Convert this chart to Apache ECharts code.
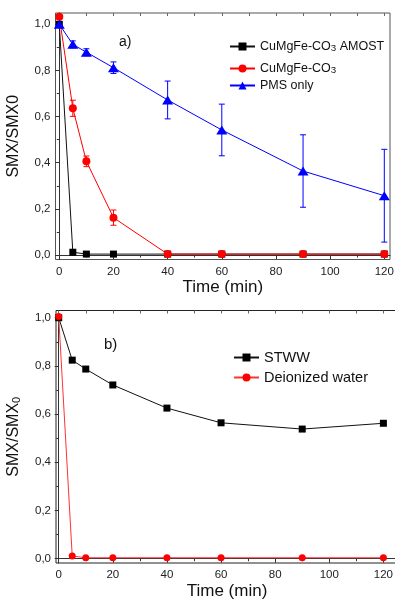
<!DOCTYPE html>
<html><head><meta charset="utf-8">
<script src="https://cdn.jsdelivr.net/npm/echarts@6/dist/echarts.min.js"></script>
<style>html,body{margin:0;padding:0;background:#fff}#c{width:395px;height:599px}</style>
</head><body><div id="c"></div>
<script>
// ---- data ----
const timeA = [0, 5, 10, 20, 40, 60, 90, 120];
const amost = [1.0, 0.012, 0.004, 0.004, 0.004, 0.004, 0.004, 0.004];
const cuMgFe = [1.033, 0.636, 0.406, 0.162, 0.004, 0.004, 0.004, 0.004];
const cuMgFeErr = [0, 0.035, 0.023, 0.033, 0, 0, 0, 0];
const pmsOnly = [1.0, 0.913, 0.879, 0.812, 0.672, 0.542, 0.364, 0.257];
const pmsErr = [0, 0.015, 0.015, 0.025, 0.082, 0.112, 0.157, 0.201];
const timeB = [0, 5, 10, 20, 40, 60, 90, 120];
const stww = [1.0, 0.824, 0.787, 0.721, 0.625, 0.564, 0.538, 0.562];
const diWater = [1.005, 0.011, 0.004, 0.004, 0.004, 0.004, 0.004, 0.004];
const yTicks = [0, 0.2, 0.4, 0.6, 0.8, 1.0];
const yMinor = [0.1, 0.3, 0.5, 0.7, 0.9];
const xTicks = [0, 20, 40, 60, 80, 100, 120];
const xMinor = [10, 30, 50, 70, 90, 110];

const FONT = 'Liberation Sans, Arial, sans-serif';
const AX = '#333';
const fmt = v => v.toFixed(1).replace('.', ',');
const pairs = (xs, ys) => xs.map((x, i) => [x, ys[i]]);
const errData = (xs, ys, es) => xs.map((x, i) => [x, ys[i] - es[i], ys[i] + es[i]]).filter((d, i) => es[i] > 0);

function errSeries(xi, yi, data, color) {
  return {
    type: 'custom', xAxisIndex: xi, yAxisIndex: yi, data: data, z: 3, silent: true,
    renderItem: function (params, api) {
      const x = api.value(0);
      const lo = api.coord([x, api.value(1)]);
      const hi = api.coord([x, api.value(2)]);
      const w = 3;
      const st = { stroke: color, lineWidth: 1 };
      return { type: 'group', children: [
        { type: 'line', shape: { x1: lo[0], y1: lo[1], x2: hi[0], y2: hi[1] }, style: st },
        { type: 'line', shape: { x1: lo[0] - w, y1: lo[1], x2: lo[0] + w, y2: lo[1] }, style: st },
        { type: 'line', shape: { x1: hi[0] - w, y1: hi[1], x2: hi[0] + w, y2: hi[1] }, style: st }
      ]};
    }
  };
}

function xAxes(grid, min, max, gap) {
  return [
    { type: 'value', gridIndex: grid, min: min, max: max, position: 'bottom',
      axisLine: { show: true, lineStyle: { color: AX, width: 1 } },
      axisTick: { show: true, length: 4, customValues: xTicks, lineStyle: { color: AX } },
      axisLabel: { customValues: xTicks, color: '#222', fontSize: 11.5, fontFamily: FONT, margin: 6, hideOverlap: false },
      splitLine: { show: false },
      name: 'Time (min)', nameLocation: 'middle', nameGap: gap,
      nameTextStyle: { fontSize: 17, fontFamily: FONT, color: '#111' } },
    { type: 'value', gridIndex: grid, min: min, max: max, position: 'bottom',
      axisLine: { show: false }, axisLabel: { show: false }, splitLine: { show: false },
      axisTick: { show: true, length: 2.5, customValues: xMinor, lineStyle: { color: AX } } },
    { type: 'value', gridIndex: grid, min: min, max: max, position: 'top',
      axisLine: { show: false }, axisLabel: { show: false }, splitLine: { show: false },
      axisTick: { show: true, inside: true, length: 3, customValues: xTicks.concat(xMinor), lineStyle: { color: '#666' } } }
  ];
}
function yAxes(grid, min, max, name, nameRich) {
  return [
    { type: 'value', gridIndex: grid, min: min, max: max, position: 'left',
      axisLine: { show: true, lineStyle: { color: AX, width: 1 } },
      axisTick: { show: true, length: 4, customValues: yTicks, lineStyle: { color: AX } },
      axisLabel: { customValues: yTicks, formatter: fmt, color: '#222', fontSize: 11.5, fontFamily: FONT, margin: 5 },
      splitLine: { show: false },
      name: name, nameLocation: 'middle', nameGap: 34, nameRotate: 90,
      nameTextStyle: { fontSize: 16, fontFamily: FONT, color: '#111', rich: nameRich } },
    { type: 'value', gridIndex: grid, min: min, max: max, position: 'left',
      axisLine: { show: false }, axisLabel: { show: false }, splitLine: { show: false },
      axisTick: { show: true, length: 2.5, customValues: yMinor, lineStyle: { color: AX } } }
  ];
}

const lineBase = { type: 'line', z: 4, showSymbol: true, animation: false };
const legFmt = n => n.replace('CO3', 'CO{s|3}');
function leg(name, left, top, size) {
  return { data: [name], left: left, top: top, itemWidth: 25, itemHeight: 10, itemGap: 3, padding: 0,
    formatter: legFmt,
    textStyle: { fontSize: size, fontFamily: FONT, color: '#111', rich: { s: { fontSize: size * 0.78, fontFamily: FONT, color: '#111', padding: [3, 0, 0, 0] } } } };
}

const option = {
  animation: false,
  backgroundColor: '#fff',
  grid: [
    { left: 55.5, top: 13, width: 334.5, height: 246.5, show: true, borderColor: '#555', borderWidth: 1, outerBoundsMode: 'none', containLabel: false },
    { left: 56, top: 310.5, width: 342, height: 252.5, show: true, borderColor: '#222', borderWidth: 1, outerBoundsMode: 'none', containLabel: false }
  ],
  xAxis: xAxes(0, -1.4, 122.1, 19).concat(xAxes(1, -1.0, 125.4, 20)),
  yAxis: yAxes(0, -0.0195, 1.049, 'SMX/SMX0', {}).concat(
         yAxes(1, -0.0178, 1.030, 'SMX/SMX{s|0}', { s: { fontSize: 11, fontFamily: FONT, color: '#111', padding: [0, 0, -6, 0] } })),
  legend: [
    leg('CuMgFe-CO3 AMOST', 229, 40, 12.5),
    leg('CuMgFe-CO3', 229, 62, 12.5),
    leg('PMS only', 229, 79, 12.5),
    leg('STWW', 233, 350, 14.5),
    leg('Deionized water', 233, 370, 14.5)
  ],
  graphic: [
    { type: 'text', left: 119, top: 35, style: { text: 'a)', fontSize: 14, fontFamily: FONT, fill: '#111' } },
    { type: 'text', left: 104, top: 337, style: { text: 'b)', fontSize: 15, fontFamily: FONT, fill: '#111' } }
  ],
  series: [
    Object.assign({}, lineBase, { name: 'CuMgFe-CO3 AMOST', xAxisIndex: 0, yAxisIndex: 0, data: pairs(timeA, amost),
      symbol: 'rect', symbolSize: 7, itemStyle: { color: '#000' }, lineStyle: { color: '#111', width: 1 } }),
    Object.assign({}, lineBase, { name: 'CuMgFe-CO3', xAxisIndex: 0, yAxisIndex: 0, data: pairs(timeA, cuMgFe),
      symbol: 'circle', symbolSize: 8, itemStyle: { color: '#ff0000' }, lineStyle: { color: '#ff0000', width: 1 } }),
    errSeries(0, 0, errData(timeA, cuMgFe, cuMgFeErr), '#ff0000'),
    Object.assign({}, lineBase, { name: 'PMS only', xAxisIndex: 0, yAxisIndex: 0, data: pairs(timeA, pmsOnly),
      symbol: 'triangle', symbolSize: [11, 9], itemStyle: { color: '#0000ff' }, lineStyle: { color: '#0000ff', width: 1 } }),
    errSeries(0, 0, errData(timeA, pmsOnly, pmsErr), '#0000ff'),
    Object.assign({}, lineBase, { name: 'STWW', xAxisIndex: 3, yAxisIndex: 2, data: pairs(timeB, stww),
      symbol: 'rect', symbolSize: 7, itemStyle: { color: '#000' }, lineStyle: { color: '#111', width: 1 } }),
    Object.assign({}, lineBase, { name: 'Deionized water', xAxisIndex: 3, yAxisIndex: 2, data: pairs(timeB, diWater),
      symbol: 'circle', symbolSize: 7, itemStyle: { color: '#ff0000' }, lineStyle: { color: '#ff3333', width: 1 } })
  ]
};
const chart = echarts.init(document.getElementById('c'), null, { renderer: 'canvas' });
chart.setOption(option);
</script></body></html>
